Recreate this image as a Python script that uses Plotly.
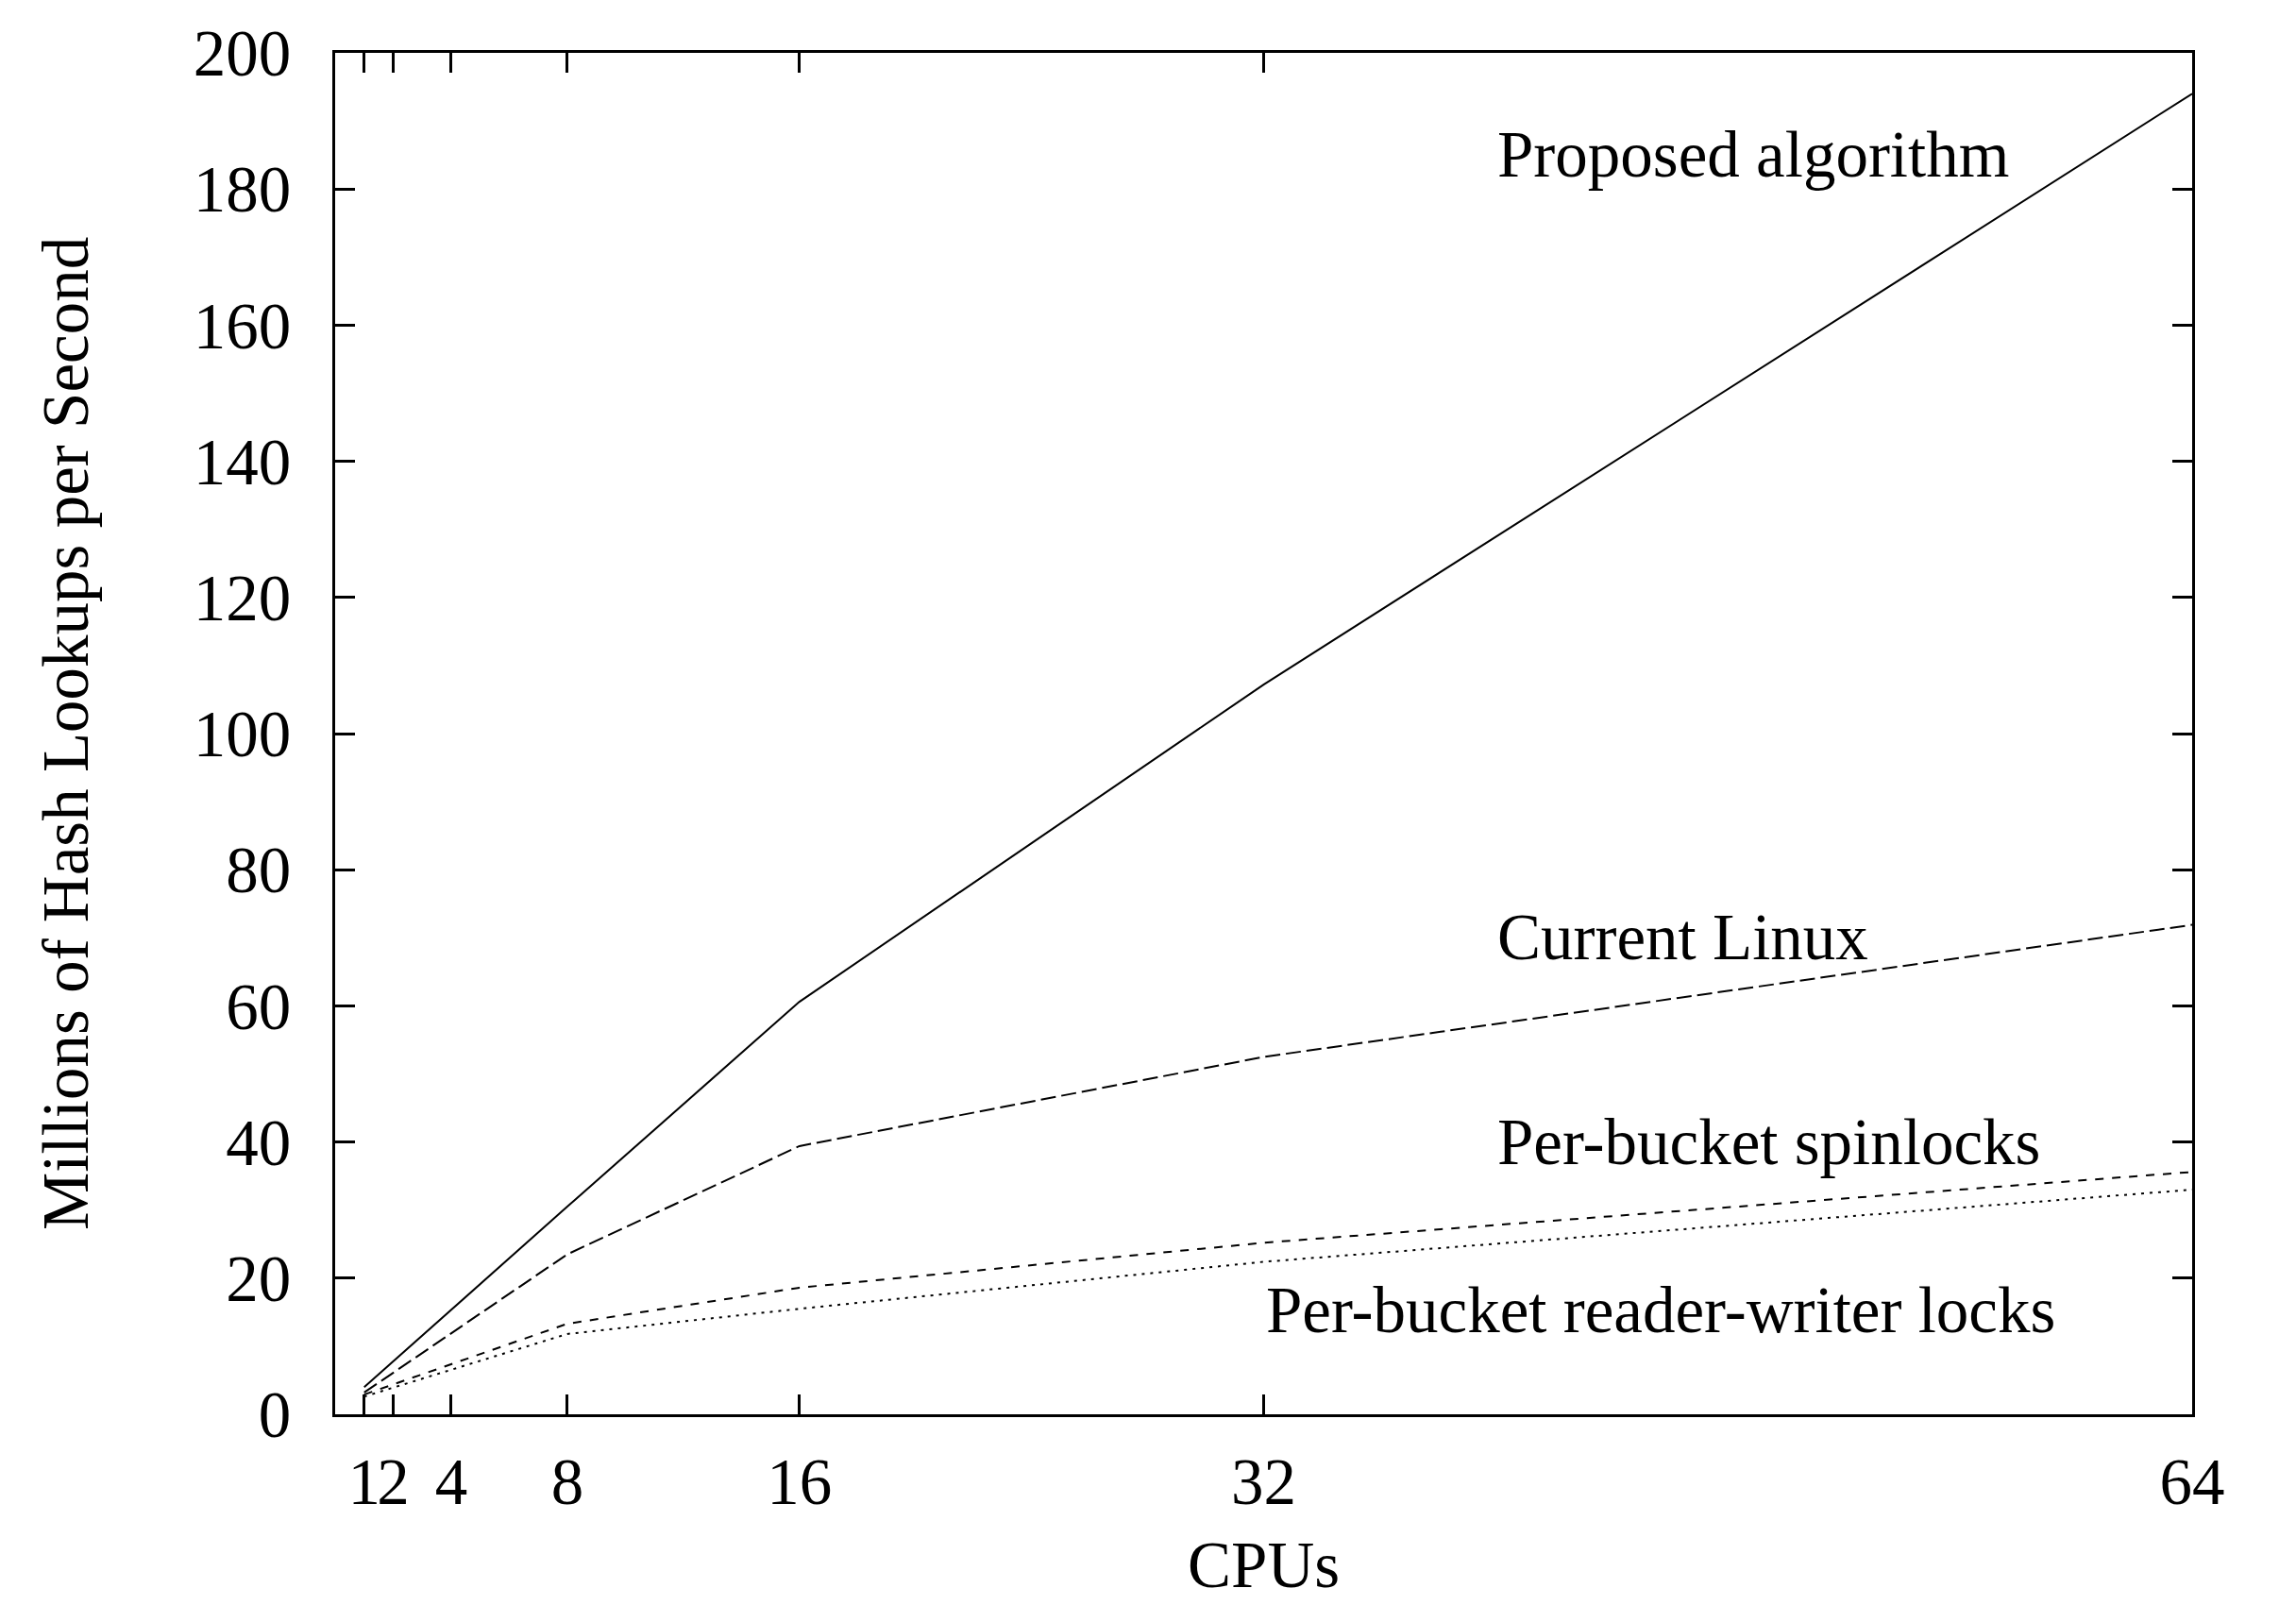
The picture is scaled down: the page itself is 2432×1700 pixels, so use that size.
import plotly.graph_objects as go

cpus = [1, 8, 16, 32, 64]
proposed = [4.0, 30.5, 60.6, 107.2, 194.0]
current_linux = [3.2, 23.5, 39.4, 52.5, 71.9]
spinlocks = [2.9, 13.3, 18.6, 25.2, 35.6]
rwlocks = [2.6, 11.8, 15.5, 22.4, 33.0]

x_ticks = [1, 2, 4, 8, 16, 32, 64]
y_ticks = [0, 20, 40, 60, 80, 100, 120, 140, 160, 180, 200]

labels = ["Proposed algorithm", "Current Linux", "Per-bucket spinlocks", "Per-bucket reader-writer locks"]
label_x = [40, 40, 40, 32]
label_y = [185, 70, 40, 15.3]

x_title = "CPUs"
y_title = "Millions of Hash Lookups per Second"

FONT = "Liberation Serif, Times New Roman, serif"
FS = 69

W, H = 2432, 1700
L, R, T, B = 347, 118, 48, 210
pw, ph = W - L - R, H - T - B

fig = go.Figure()
series = [
    (proposed, "solid"),
    (current_linux, "16px,6px"),
    (spinlocks, "9px,9px"),
    (rwlocks, "3px,6px"),
]
for (vals, dash), name in zip(series, labels):
    fig.add_trace(go.Scatter(x=cpus, y=vals, mode="lines", name=name,
                             line=dict(color="black", width=2, dash=dash)))

for t, xx, yy in zip(labels, label_x, label_y):
    fig.add_annotation(x=xx, y=yy, text=t, showarrow=False, xanchor="left", yanchor="middle",
                       font=dict(family=FONT, size=FS, color="black"))

# axis titles
fig.add_annotation(xref="paper", yref="paper", x=0.5, y=-(1650 - (H - B)) / ph,
                   text=x_title, showarrow=False, xanchor="center", yanchor="middle",
                   font=dict(family=FONT, size=FS, color="black"))
fig.add_annotation(xref="paper", yref="paper", x=(62 - L) / pw, y=0.5, textangle=-90,
                   text=y_title, showarrow=False, xanchor="center", yanchor="middle",
                   font=dict(family=FONT, size=FS, color="black"))

fig.update_layout(
    width=W, height=H,
    margin=dict(l=L, r=R, t=T, b=B),
    paper_bgcolor="white", plot_bgcolor="white",
    showlegend=False,
    font=dict(family=FONT, size=FS, color="black"),
)
fig.update_xaxes(range=[0, 64], tickvals=x_ticks, ticktext=[str(v) for v in x_ticks],
                 tickangle=0, automargin=False,
                 ticks="inside", ticklen=21, tickwidth=3, tickcolor="black",
                 showline=True, linewidth=3, linecolor="black", mirror="ticks",
                 showgrid=False, zeroline=False,
                 tickfont=dict(family=FONT, size=FS), ticklabelstandoff=9)
fig.update_yaxes(range=[0, 200], tickvals=y_ticks, automargin=False,
                 ticks="inside", ticklen=21, tickwidth=3, tickcolor="black",
                 showline=True, linewidth=3, linecolor="black", mirror="ticks",
                 showgrid=False, zeroline=False,
                 tickfont=dict(family=FONT, size=FS), ticklabelstandoff=30)

fig.write_html("out.html")
